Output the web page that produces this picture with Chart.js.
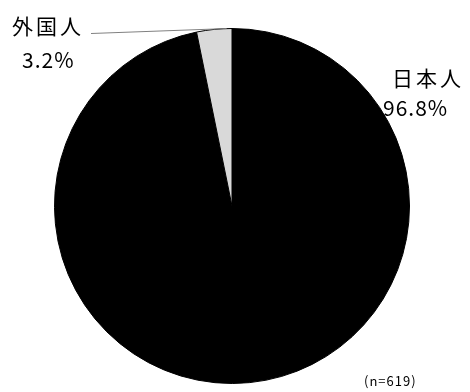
<!DOCTYPE html>
<html>
<head>
<meta charset="utf-8">
<script src="https://cdn.jsdelivr.net/npm/chart.js@4"></script>
<style>
  html, body { margin: 0; padding: 0; background: #fff; }
  #wrap { width: 470px; height: 392px; position: relative; }
</style>
</head>
<body>
<div id="wrap"><canvas id="pie" width="470" height="392"></canvas></div>
<script>
const labels = ['日本人', '外国人'];
const shares = [96.8, 3.2];
const colors = ['#000000', '#d9d9d9'];
const sampleNote = '(n=619)';

const FONT = '"Noto Sans CJK JP", "Noto Sans", sans-serif';

// labels outside the pie, plus the leader line for the small slice
const outsideLabels = {
  id: 'outsideLabels',
  afterDraw(chart) {
    const ctx = chart.ctx;
    const arcs = chart.getDatasetMeta(0).data;
    ctx.save();
    ctx.fillStyle = '#000';
    ctx.textBaseline = 'middle';
    ctx.textAlign = 'left';

    // 日本人
    ctx.font = '21px ' + FONT;
    ctx.letterSpacing = '3px';
    ctx.fillText(labels[0], 392, 78);
    ctx.letterSpacing = '1px';
    ctx.fillText(shares[0].toFixed(1) + '%', 383, 108);

    // 外国人
    ctx.letterSpacing = '3px';
    ctx.fillText(labels[1], 12, 26);
    ctx.letterSpacing = '1px';
    ctx.fillText(shares[1].toFixed(1) + '%', 22, 60);

    // leader line to the small slice
    const a = arcs[1];
    const ang = a.startAngle + (a.endAngle - a.startAngle) * 0.85;
    const ex = a.x + Math.cos(ang) * a.outerRadius;
    const ey = a.y + Math.sin(ang) * a.outerRadius;
    ctx.strokeStyle = '#808080';
    ctx.lineWidth = 1;
    ctx.beginPath();
    ctx.moveTo(91, 33.5);
    ctx.lineTo(ex, ey);
    ctx.stroke();

    // sample size
    ctx.font = '13px ' + FONT;
    ctx.letterSpacing = '1px';
    ctx.fillText(sampleNote, 364, 381);
    ctx.restore();
  }
};

new Chart(document.getElementById('pie'), {
  type: 'pie',
  data: {
    labels: labels,
    datasets: [{
      data: shares,
      backgroundColor: colors,
      borderColor: '#000000',
      borderWidth: 1
    }]
  },
  options: {
    responsive: false,
    animation: false,
    layout: { padding: { left: 54, right: 60, top: 28, bottom: 8 } },
    plugins: {
      legend: { display: false },
      tooltip: { enabled: false }
    }
  },
  plugins: [outsideLabels]
});
</script>
</body>
</html>
